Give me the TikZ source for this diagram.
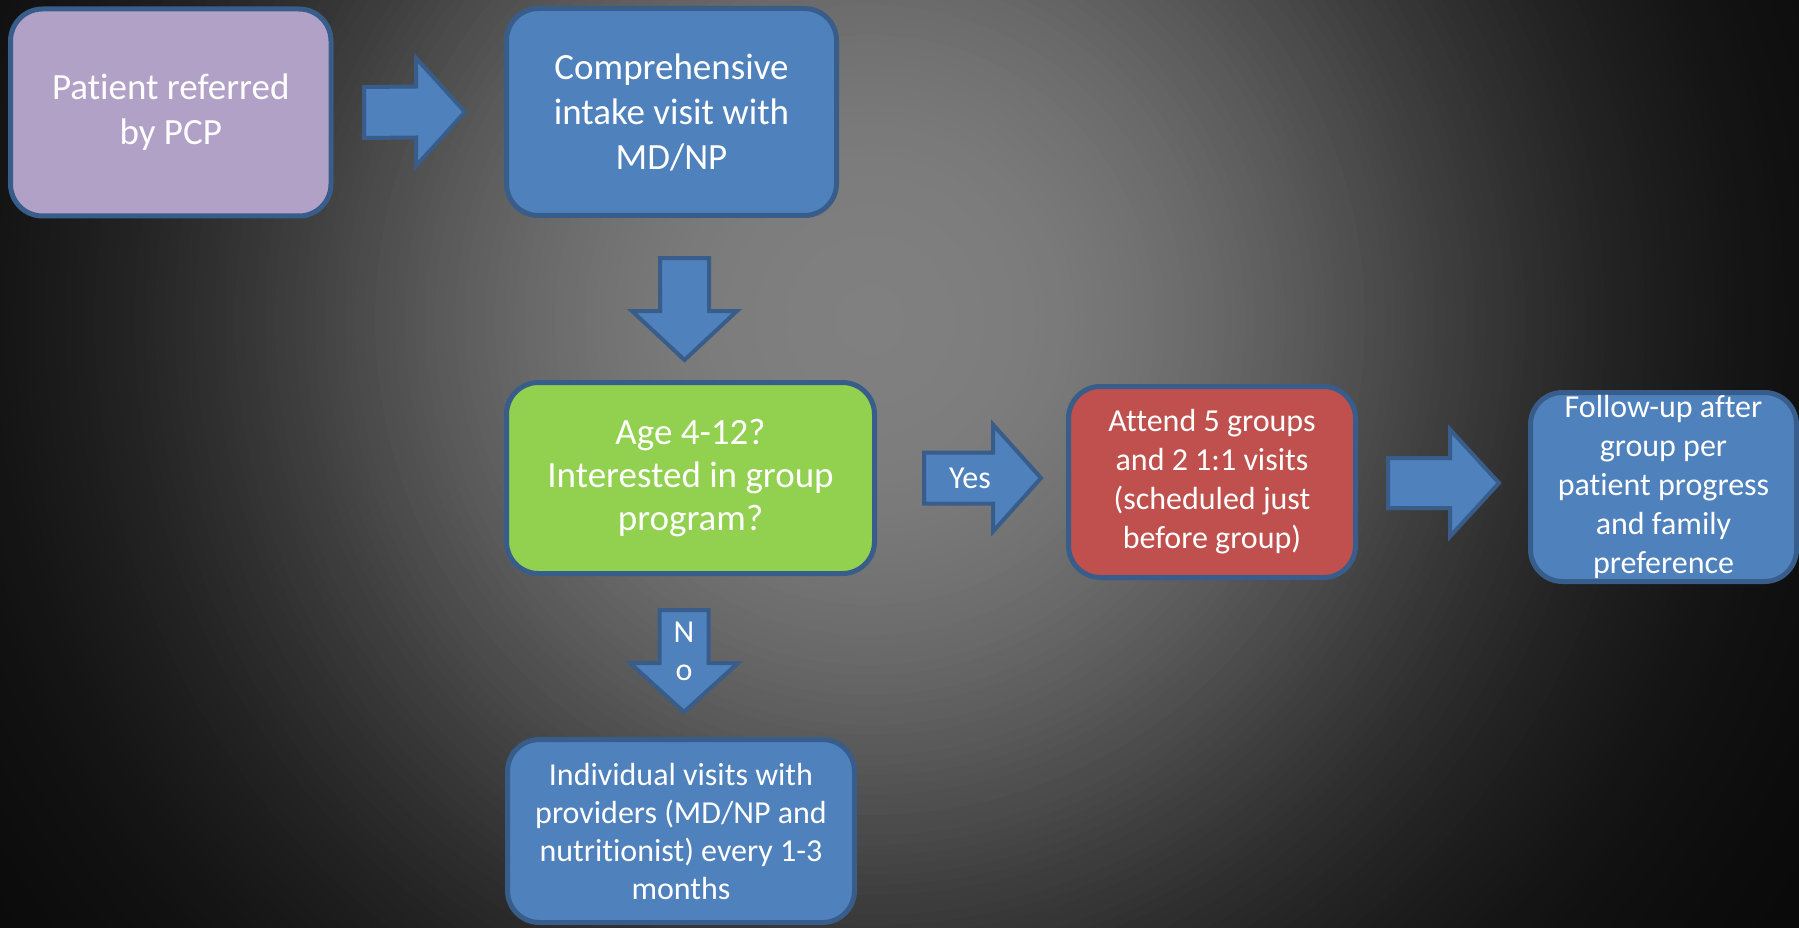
\documentclass[tikz,border=0pt]{standalone}
\usepackage{fontspec}
\setmainfont[Ligatures={NoCommon}]{Carlito}
\usetikzlibrary{calc}

\definecolor{boxline}{HTML}{385D8A}
\definecolor{blueFill}{HTML}{4F81BD}
\definecolor{purpleFill}{HTML}{B2A1C7}
\definecolor{greenFill}{HTML}{92D050}
\definecolor{redFill}{HTML}{C0504D}

\tikzset{
  flowbox/.style={draw=boxline, line width=5pt, rounded corners=32pt, text=white,
    align=center, inner sep=0pt, outer sep=0pt},
  bigtext/.style={font=\fontsize{37}{45}\selectfont},
  smalltext/.style={font=\fontsize{32}{39}\selectfont},
  blockarrow/.style={draw=boxline, fill=blueFill, line width=4pt, line join=miter},
  arrowlabel/.style={text=white, align=center, font=\fontsize{32}{38}\selectfont, inner sep=0pt}
}

% block arrow pointing right: tail, tip, shaft half width, head half width, head length
\newcommand{\rightblock}[5]{%
  \draw[blockarrow] ($(#1)+(0,-#3)$) -- ($(#2)+(-#5,-#3)$) -- ($(#2)+(-#5,-#4)$) -- (#2)
    -- ($(#2)+(-#5,#4)$) -- ($(#2)+(-#5,#3)$) -- ($(#1)+(0,#3)$) -- cycle;}
% block arrow pointing down
\newcommand{\downblock}[5]{%
  \draw[blockarrow] ($(#1)+(-#3,0)$) -- ($(#2)+(-#3,-#5)$) -- ($(#2)+(-#4,-#5)$) -- (#2)
    -- ($(#2)+(#4,-#5)$) -- ($(#2)+(#3,-#5)$) -- ($(#1)+(#3,0)$) -- cycle;}

\begin{document}
\begin{tikzpicture}[x=1pt, y=-1pt]
  \useasboundingbox (0,0) rectangle (1799,928);
  \clip (0,0) rectangle (1799,928);
  % dark background with a soft grey glow, built from concentric discs
  \fill[black!92] (0,0) rectangle (1799,928);
  \foreach \i in {0,...,129} {
    \pgfmathsetmacro{\rad}{1295-10*\i}
    \pgfmathsetmacro{\lev}{100*(0.03+0.47*exp(-pow(\rad/640,2.5)))}
    \fill[white!\lev!black] (870,320) circle[radius=\rad];
  }

  % process boxes
  \node[flowbox, bigtext, fill=purpleFill, minimum width=320.5pt, minimum height=207pt]
    (referral) at (170.75,112.5) {Patient referred\\by PCP};
  \node[flowbox, bigtext, fill=blueFill, minimum width=330pt, minimum height=207pt]
    (intake) at (671.5,112) {Comprehensive\\intake visit with\\MD/NP};
  \node[flowbox, font=\fontsize{37}{43}\selectfont, fill=greenFill, minimum width=368pt, minimum height=191pt]
    (decision) at (690.5,478) {Age 4-12?\\Interested in group\\program?};
  \node[flowbox, smalltext, fill=redFill, minimum width=287pt, minimum height=191pt]
    (group) at (1212,482) {Attend 5 groups\\and 2 1:1 visits\\(scheduled just\\before group)};
  \node[flowbox, smalltext, fill=blueFill, minimum width=266pt, minimum height=189pt]
    (follow) at (1663.5,487) {Follow-up after\\group per\\patient progress\\and family\\preference};
  \node[flowbox, font=\fontsize{32}{38}\selectfont, fill=blueFill, minimum width=347pt, minimum height=183pt]
    (individual) at (681,831) {\raisebox{-5pt}{\parbox{340pt}{\centering Individual visits with\\providers (MD/NP and\\nutritionist) every 1-3\\months}}};

  % arrow end points
  \coordinate (a1t) at ($(referral.east)+(33,0)$);
  \coordinate (a1p) at ($(intake.west)+(-41.5,0)$);
  \coordinate (a2t) at ($(intake.south)+(13,42.5)$);
  \coordinate (a2p) at ($(decision.north)+(-6,-22.5)$);
  \coordinate (a3t) at ($(decision.east)+(49.5,0)$);
  \coordinate (a3p) at ($(group.west)+(-27.5,-4)$);
  \coordinate (a4t) at ($(group.east)+(32.5,1)$);
  \coordinate (a4p) at ($(follow.west)+(-31.5,-4)$);
  \coordinate (a5t) at ($(decision.south)+(-6.5,36.5)$);
  \coordinate (a5p) at ($(individual.north)+(3,-27.5)$);

  % block arrows
  \rightblock{a1t}{a1p}{25.5}{54}{49}
  \downblock{a2t}{a2p}{24.5}{52.5}{49}
  \rightblock{a3t}{a3p}{25.5}{53.5}{48}
  \rightblock{a4t}{a4p}{25}{53.5}{49}
  \downblock{a5t}{a5p}{24.5}{54}{49}

  % arrow labels
  \node[arrowlabel] (yeslabel) at (970,478) {Yes};
  \node[arrowlabel] (nolabel) at (684,651) {N\\o};
\end{tikzpicture}
\end{document}
